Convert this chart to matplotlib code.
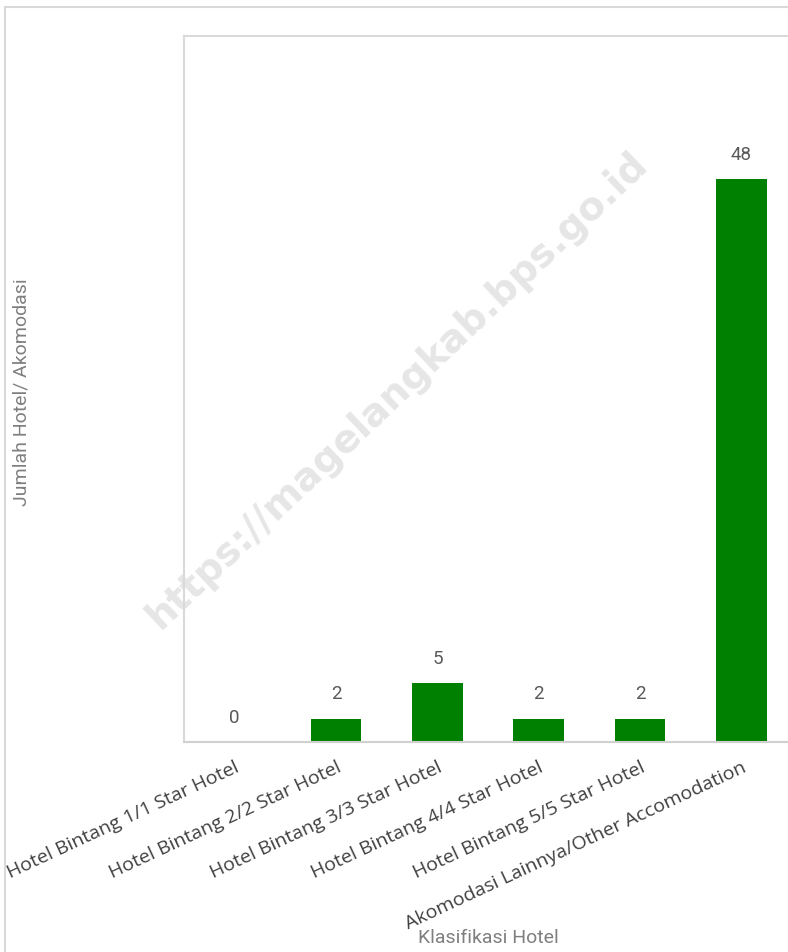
import matplotlib.pyplot as plt
from matplotlib.patches import Rectangle

categories = [
    "Hotel Bintang 1/1 Star Hotel",
    "Hotel Bintang 2/2 Star Hotel",
    "Hotel Bintang 3/3 Star Hotel",
    "Hotel Bintang 4/4 Star Hotel",
    "Hotel Bintang 5/5 Star Hotel",
    "Akomodasi Lainnya/Other Accomodation",
]
values = [0, 2, 5, 2, 2, 48]

plt.rcParams['font.family'] = ['Open Sans', 'DejaVu Sans']

fig = plt.figure(figsize=(7.88, 9.52), dpi=100)

# outer frame of the chart area
fig.patches.append(Rectangle((5 / 788, -0.1), 1.2, 1 - 7 / 952 + 0.1,
                             transform=fig.transFigure, fill=False,
                             edgecolor='#d9d9d9', linewidth=1.5))

# watermark, behind the axes frame
fig.text(397 / 788, 1 - 390 / 952, "https://magelangkab.bps.go.id",
         ha='center', va='center', rotation=43.5, fontsize=28,
         fontweight='bold', color='#e6e6e6', family='DejaVu Sans', zorder=-1)

ax = fig.add_axes([184 / 788, 1 - 742 / 952, 608 / 788, 706 / 952])
ax.set_facecolor('none')
x = list(range(len(categories)))
ax.bar(x, values, width=0.5, color='#008000')
ax.set_xlim(-0.5, 5.5)
ax.set_ylim(0, 60.2)

for xi, v in zip(x, values):
    ax.text(xi, v + 1.3, str(v), ha='center', va='bottom', fontsize=13.5,
            color='#595959', family='Roboto')

ax.set_xticks(x)
ax.set_xticklabels(categories, rotation=25, ha='right', rotation_mode='anchor',
                   fontsize=14, color='#404040')
ax.tick_params(axis='x', length=0, pad=12)
ax.set_yticks([])

for side in ['left', 'top']:
    ax.spines[side].set_color('#d9d9d9')
    ax.spines[side].set_linewidth(1.5)
ax.spines['bottom'].set_color('#d0d0d0')
ax.spines['bottom'].set_linewidth(1.5)
ax.spines['right'].set_visible(False)

fig.text(488 / 788, 1 - 938 / 952, "Klasifikasi Hotel", ha='center', va='center',
         fontsize=14, color='#7f7f7f', family='Roboto')
fig.text(22 / 788, 1 - 392 / 952, "Jumlah Hotel/ Akomodasi", ha='center',
         va='center', rotation=90, fontsize=14, color='#7f7f7f',
         family='Roboto')

fig.savefig('out.png', dpi=100)
